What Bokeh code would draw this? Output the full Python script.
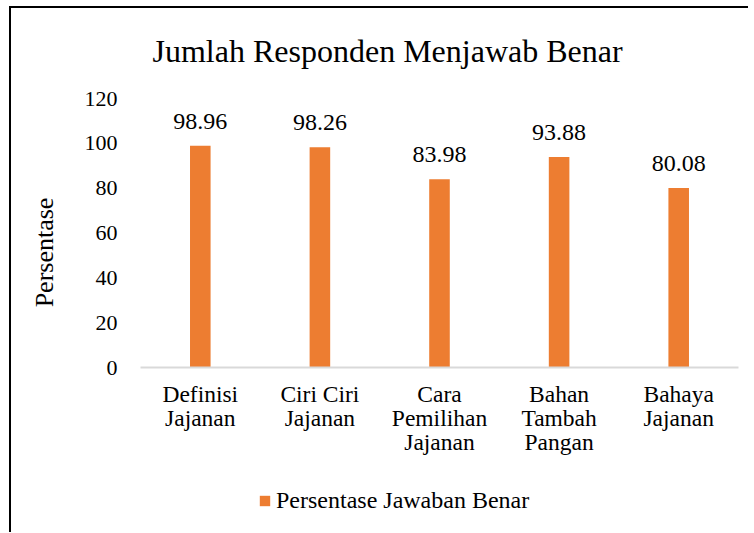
from bokeh.plotting import figure
from bokeh.layouts import column
from bokeh.models import (ColumnDataSource, LabelSet, Legend, LegendItem,
                          Range1d, FactorRange, Title)
from bokeh.core.properties import value
from bokeh.embed import file_html
from bokeh.resources import INLINE

# ---- data ----
categories = ["Definisi\nJajanan", "Ciri Ciri\nJajanan", "Cara\nPemilihan\nJajanan",
              "Bahan\nTambah\nPangan", "Bahaya\nJajanan"]
values = [98.96, 98.26, 83.98, 93.88, 80.08]
value_labels = ["98.96", "98.26", "83.98", "93.88", "80.08"]
y_ticks = [0, 20, 40, 60, 80, 100, 120]
title_text = "Jumlah Responden Menjawab Benar"
y_label_text = "Persentase"
series_name = "Persentase Jawaban Benar"

FONT = "Liberation Serif"
BAR = "#ED7D31"

src = ColumnDataSource(dict(cat=categories, val=values, lbl=value_labels))

p = figure(x_range=FactorRange(factors=categories), y_range=Range1d(0, 120),
           width=737, height=454, output_backend="svg", toolbar_location=None,
           min_border_left=129, min_border_right=10, min_border_top=90,
           min_border_bottom=95)
p.outline_line_color = None
p.background_fill_color = "white"
p.border_fill_color = "white"
p.xgrid.grid_line_color = None
p.ygrid.grid_line_color = None

# title
p.title.text = title_text
p.title.text_font = FONT
p.title.text_font_size = "32px"
p.title.text_font_style = "normal"
p.title.text_color = "#000000"
p.title.align = "left"
p.title.offset = 12
p.title.standoff = 10
# blank spacer between the title and the plot area
p.add_layout(Title(text="\u00a0", text_font_size="10px", standoff=12), "above")

bars = p.vbar(x="cat", top="val", width=0.172, source=src,
              fill_color=BAR, line_color=None)

# value labels
labels = LabelSet(x="cat", y="val", text="lbl", source=src, y_offset=17,
                  text_align="center", text_baseline="alphabetic",
                  text_font=value(FONT), text_font_size=value("24px"),
                  text_color="#000000")
p.add_layout(labels)

# y axis
p.yaxis.ticker = y_ticks
p.yaxis.axis_line_color = None
p.yaxis.major_tick_line_color = None
p.yaxis.minor_tick_line_color = None
p.yaxis.major_label_standoff = 17
p.yaxis.major_label_text_font = FONT
p.yaxis.major_label_text_font_size = "22px"
p.yaxis.major_label_text_color = "#000000"
p.yaxis.axis_label = y_label_text + "\u00a0" * 6
p.yaxis.axis_label_text_font = FONT
p.yaxis.axis_label_text_font_size = "26px"
p.yaxis.axis_label_text_font_style = "normal"
p.yaxis.axis_label_text_color = "#000000"
p.yaxis.axis_label_standoff = 23

# x axis
p.xaxis.axis_line_color = "#D9D9D9"
p.xaxis.axis_line_width = 2
p.xaxis.major_tick_line_color = None
p.xaxis.minor_tick_line_color = None
p.xaxis.major_label_standoff = 7
p.xaxis.major_label_text_font = FONT
p.xaxis.major_label_text_font_size = "23.5px"
p.xaxis.major_label_text_color = "#000000"
p.xaxis.major_label_text_line_height = 0.93

# legend strip (bars drawn outside its visible y range, only the legend shows)
p2 = figure(x_range=p.x_range, y_range=Range1d(1000, 1001), width=737, height=70,
            output_backend="svg", toolbar_location=None,
            x_axis_location=None, y_axis_location=None,
            min_border_left=129, min_border_right=10, min_border_top=0,
            min_border_bottom=0)
p2.outline_line_color = None
p2.xgrid.grid_line_color = None
p2.ygrid.grid_line_color = None
leg_bars = p2.vbar(x="cat", top="val", width=0.172, source=src,
                   fill_color=BAR, line_color=None)
legend = Legend(items=[LegendItem(label=series_name, renderers=[leg_bars])],
                location=(118, 18), orientation="horizontal",
                glyph_width=13, glyph_height=13, label_standoff=5,
                label_text_font=FONT, label_text_font_size="24px",
                label_text_color="#000000", border_line_color=None,
                background_fill_alpha=0, padding=0, margin=0, spacing=0)
p2.add_layout(legend, "center")

layout = column(p, p2, spacing=0)
layout.styles = {"margin-left": "9px", "margin-top": "6px",
                 "border-top": "2px solid #000000", "border-left": "2px solid #000000"}
open("out.html", "w").write(file_html(layout, INLINE))
